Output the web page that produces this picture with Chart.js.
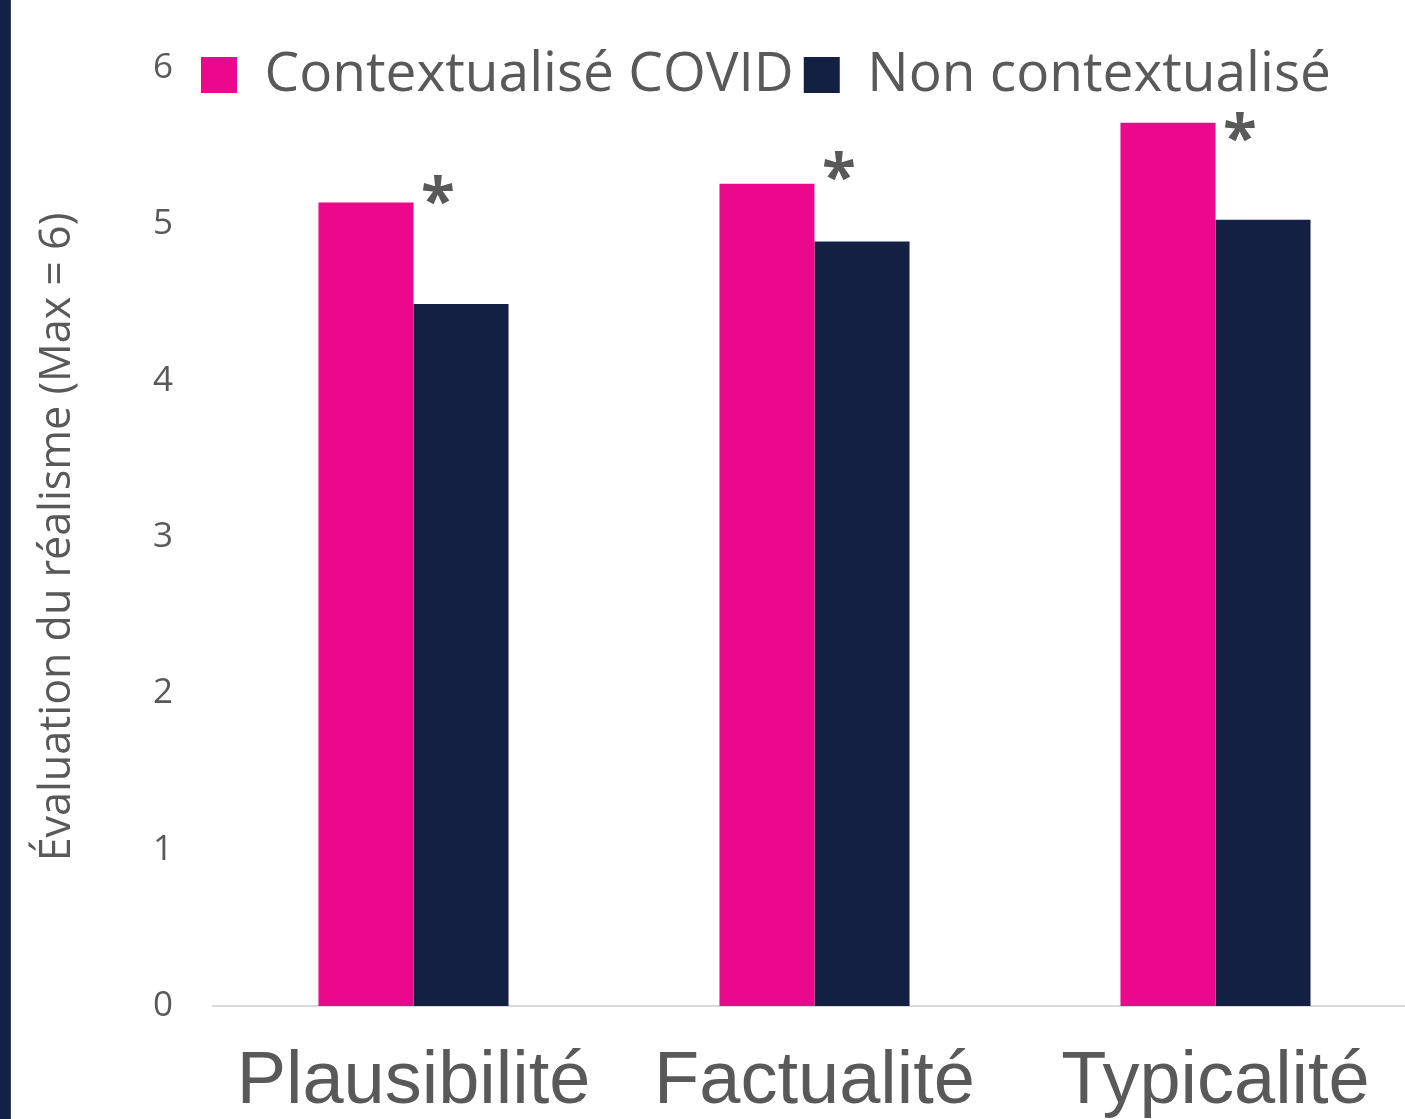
<!DOCTYPE html>
<html><head><meta charset="utf-8">
<script src="https://cdn.jsdelivr.net/npm/chart.js@4"></script>
<style>
html,body{margin:0;padding:0;background:#fff;overflow:hidden;width:1405px;height:1119px}
#wrap{position:absolute;left:0;top:0;width:1420px;height:1119px}
#strip{position:absolute;left:0;top:0;width:10px;height:1119px;background:#142046;border-right:1px solid #34426b;z-index:2}
</style></head><body>
<div id="wrap"><canvas id="c" width="1420" height="1119"></canvas></div>
<div id="strip"></div>
<script>
const categories = ['Plausibilité', 'Factualité', 'Typicalité'];
const seriesNames = ['Contextualisé COVID', 'Non contextualisé'];
const covidValues = [5.14, 5.26, 5.65];
const nonContextValues = [4.49, 4.89, 5.03];
const significanceMarks = ['*', '*', '*'];
const significanceLevels = [5.22, 5.37, 5.62];
const yTickValues = [0, 1, 2, 3, 4, 5, 6];
const yAxisTitle = 'Évaluation du réalisme (Max = 6)';

const PINK = '#EC088C';
const NAVY = '#142042';
const GREY = '#595959';

const legendPlacer = {
  id: 'legendPlacer',
  beforeLayout(chart) {
    const lg = chart.legend;
    if (lg && !lg._fixed) {
      const f = lg.fit.bind(lg);
      lg.fit = function () { f(); this.height = 68; };
      lg._fixed = true;
    }
  },
  afterLayout(chart) {
    const lg = chart.legend;
    if (lg) { lg.left = 191; lg.top = 37.5; lg.bottom = 140; lg.right = 1416; }
  }
};

const sigPlugin = {
  id: 'sig',
  afterDatasetsDraw(chart) {
    const meta = chart.getDatasetMeta(0);
    const ys = chart.scales.y;
    const ctx = chart.ctx;
    ctx.save();
    ctx.fillStyle = GREY;
    ctx.font = 'bold 62px "Open Sans"';
    ctx.textAlign = 'left';
    ctx.textBaseline = 'alphabetic';
    significanceMarks.forEach((m, i) => {
      const bar = meta.data[i];
      const cx = bar.x + bar.width / 2 + 24;
      const cy = ys.getPixelForValue(significanceLevels[i]);
      const mt = ctx.measureText(m);
      const gx = cx - (mt.actualBoundingBoxRight - mt.actualBoundingBoxLeft) / 2;
      const gy = cy + (mt.actualBoundingBoxAscent - mt.actualBoundingBoxDescent) / 2;
      ctx.fillText(m, gx, gy);
    });
    ctx.restore();
  }
};

function build() {
  new Chart(document.getElementById('c'), {
    type: 'bar',
    data: {
      labels: categories,
      datasets: [
        { label: seriesNames[0], data: covidValues, backgroundColor: PINK, borderWidth: 0, barPercentage: 1, categoryPercentage: 0.474 },
        { label: seriesNames[1], data: nonContextValues, backgroundColor: NAVY, borderWidth: 0, barPercentage: 1, categoryPercentage: 0.474 }
      ]
    },
    plugins: [legendPlacer, sigPlugin],
    options: {
      responsive: false,
      animation: false,
      devicePixelRatio: 1,
      layout: { padding: { left: 0, right: 4, top: 0, bottom: 0 } },
      plugins: {
        legend: {
          display: true, position: 'top', align: 'start',
          labels: { boxWidth: 36, boxHeight: 36, padding: 10, color: GREY, font: { family: '"Open Sans"', size: 55 } }
        },
        tooltip: { enabled: false }
      },
      scales: {
        x: {
          grid: { display: false, drawTicks: false },
          border: { display: true, color: '#d9d9d9', width: 2 },
          ticks: { color: GREY, font: { family: '"Liberation Sans", Arial', size: 74 }, padding: 32, maxRotation: 0, autoSkip: false },
          afterFit: s => { s.height = 113; }
        },
        y: {
          min: 0, max: 6,
          grid: { display: false, drawTicks: false },
          border: { display: false },
          afterBuildTicks: s => { s.ticks = yTickValues.map(v => ({ value: v })); },
          ticks: { color: GREY, font: { family: '"Open Sans"', size: 35 }, padding: 40 },
          title: { display: true, text: yAxisTitle, color: GREY, font: { family: '"Open Sans"', size: 43 }, padding: { top: 32, bottom: 0 } },
          afterFit: s => { s.width = 213; }
        }
      }
    }
  });
}
Promise.all([
  document.fonts.load('55px "Open Sans"'),
  document.fonts.load('bold 62px "Open Sans"'),
  document.fonts.load('74px "Liberation Sans"')
]).then(build, build);
</script>
</body></html>
